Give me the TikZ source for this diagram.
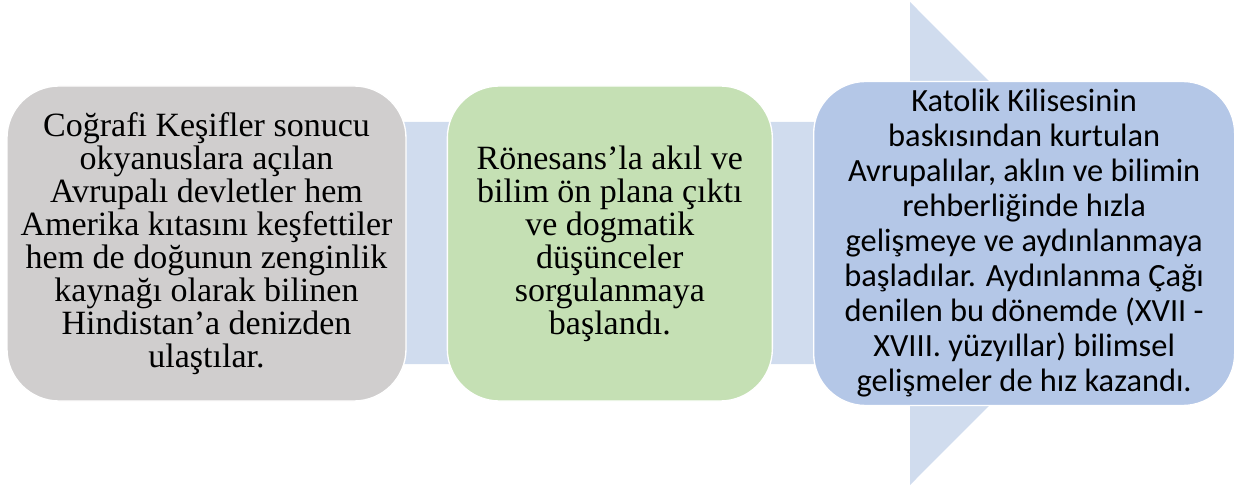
\documentclass[tikz,border=0pt]{standalone}
\usepackage{fontspec}
\setmainfont{Liberation Serif}
\newfontfamily\calibrifont{Carlito}
\usepackage{xcolor}
\usetikzlibrary{positioning}

\definecolor{flowblue}{HTML}{D0DCEE}
\definecolor{stagegray}{HTML}{D0CECE}
\definecolor{stagegreen}{HTML}{C5E0B4}
\definecolor{stageblue}{HTML}{B4C7E7}

\begin{document}
\begin{tikzpicture}[
    x=0.75pt, y=-0.75pt,
    node distance=30pt,
    stage/.style={draw=white, line width=1pt, rounded corners=39pt, align=center, inner sep=0pt, minimum height=236.25pt, font=\fontsize{25.5}{24.75}\selectfont},
    flow/.style={fill=flowblue}
]
    \useasboundingbox (0,0) rectangle (1235,488);

    % big arrow behind the stages
    \fill[flow] (60,122) -- (910,122) -- (910,2) -- (1151,243.5) -- (910,485) -- (910,364) -- (60,364) -- cycle;

    \node[stage, fill=stagegray, minimum width=299.25pt] (kesif) at (206.5,243.5) {Coğrafi Keşifler sonucu\\okyanuslara açılan\\Avrupalı devletler hem\\Amerika kıtasını keşfettiler\\hem de doğunun zenginlik\\kaynağı olarak bilinen\\Hindistan’a denizden\\ulaştılar.};

    \node[stage, fill=stagegreen, minimum width=243.75pt, right=of kesif] (ronesans) {Rönesans’la akıl ve\\bilim ön plana çıktı\\ve dogmatik\\düşünceler\\sorgulanmaya\\başlandı.};

    \node[stage, fill=stageblue, minimum width=315.75pt, minimum height=243pt, right=of ronesans, font=\calibrifont\fontsize{24.3}{26.25}\selectfont] (aydinlanma) {Katolik Kilisesinin\\baskısından kurtulan\\Avrupalılar, aklın ve bilimin\\rehberliğinde hızla\\gelişmeye ve aydınlanmaya\\başladılar. Aydınlanma Çağı\\denilen bu dönemde (XVII -\\XVIII. yüzyıllar) bilimsel\\gelişmeler de hız kazandı.};

\end{tikzpicture}
\end{document}
